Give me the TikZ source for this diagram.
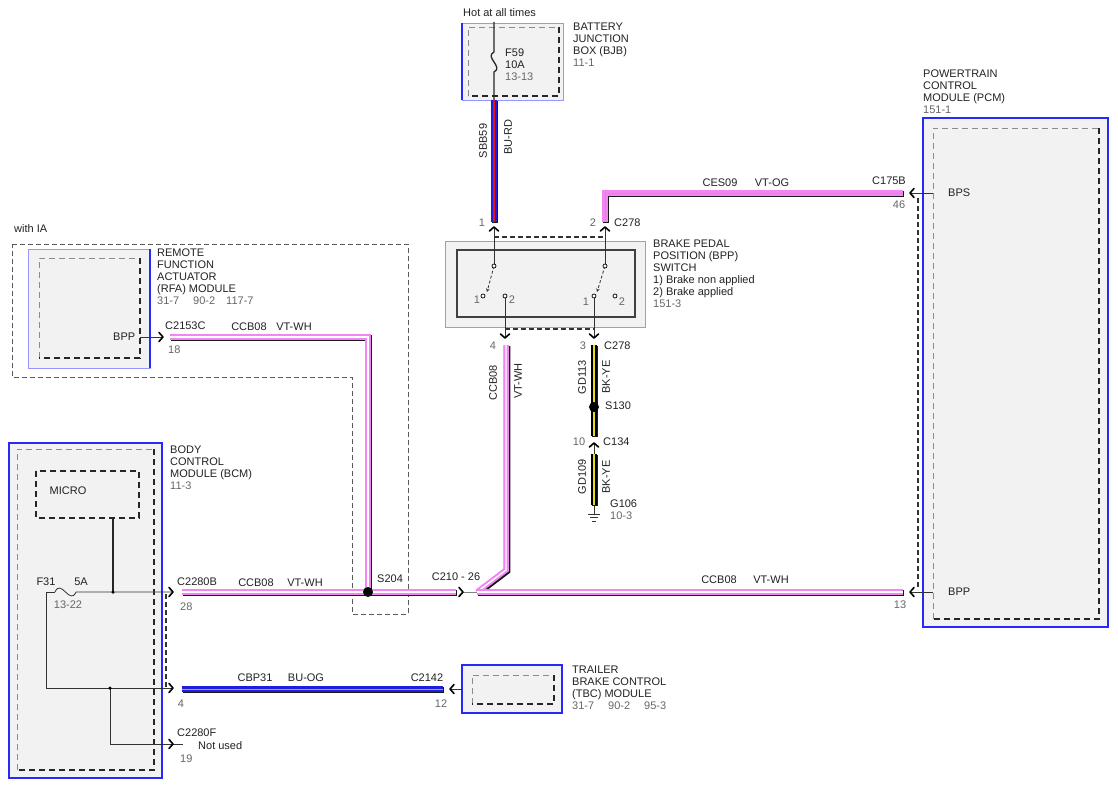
\documentclass[tikz,border=0pt]{standalone}
\usepackage{fontspec}
\setmainfont{Liberation Sans}
\usetikzlibrary{arrows.meta,calc}
\definecolor{txt}{HTML}{222222}
\definecolor{num}{HTML}{666666}
\definecolor{modfill}{HTML}{F2F2F2}
\definecolor{bluethick}{RGB}{40,40,250}
\definecolor{bluelight}{RGB}{150,150,255}
\definecolor{vt}{RGB}{240,135,240}
\definecolor{bu}{RGB}{30,30,220}
\definecolor{rd}{RGB}{230,20,20}
\definecolor{og}{RGB}{255,150,40}
\definecolor{ye}{RGB}{230,220,30}
\newcommand\wirepath[3]{%
  \draw[line width=6.5pt, black!90, transform canvas={shift={(1pt,-1pt)}}] #3;
  \draw[line width=5.5pt, #1] #3;
  \draw[line width=1.4pt, #2] #3;}
\newcommand\innerdash[4]{%
  \draw[dashlight] (#1,#4) -- (#1,#2) -- (#3,#2);
  \draw[dashdark] (#3,#2) -- (#3,#4) -- (#1,#4);}
\tikzset{
  lb/.style={anchor=north west, inner sep=0pt, align=left, font=\fontsize{11}{12}\selectfont, text=txt, execute at begin node=\rule{0pt}{8pt}},
  txtc/.style={inner sep=0pt, text height=7.8pt, text depth=0pt, font=\fontsize{11}{12}\selectfont, text=txt},
  txtn/.style={txtc, text=num},
  txtw/.style={txtc, anchor=west},
  numw/.style={txtw, text=num},
  txtrot/.style={txtc, rotate=90},
  pinline/.style={draw=black!80, line width=0.8pt},
  heavyline/.style={draw=black!85, line width=1.3pt},
  dashlight/.style={draw=black!45, line width=0.8pt, dash pattern=on 6pt off 4pt},
  dashdark/.style={draw=black!85, line width=1.4pt, dash pattern=on 6pt off 4pt},
  grpdash/.style={draw=black!80, line width=1.2pt, dash pattern=on 5pt off 3pt},
  iadash/.style={draw=black!65, line width=0.8pt, dash pattern=on 5pt off 3pt},
  chevstyle/.style={draw=black, line width=1.6pt, line join=round, line cap=round},
  chevR/.pic={\draw[chevstyle] (-4,-4.5) -- (0,0) -- (-4,4.5);},
  chevL/.pic={\draw[chevstyle] (4,-4.5) -- (0,0) -- (4,4.5);},
  chevU/.pic={\draw[chevstyle] (-4.5,4) -- (0,0) -- (4.5,4);},
  chevD/.pic={\draw[chevstyle] (-4.5,-4) -- (0,0) -- (4.5,-4);},
  splice/.style={circle, fill=black, inner sep=0pt, minimum size=10pt},
  jdot/.style={circle, fill=black, inner sep=0pt, minimum size=3.5pt},
  contact/.style={circle, draw=black, fill=white, line width=0.7pt, inner sep=0pt, minimum size=4pt},
}
\begin{document}
\begin{tikzpicture}[x=1pt,y=-1pt]
\useasboundingbox (0,0) rectangle (1118,789);
\fill[white] (0,0) rectangle (1118,789);

% ---------- module boxes ----------
% BJB
\draw[fill=modfill, draw=bluelight, line width=0.8pt] (462,23) rectangle (563,100);
\draw[bluethick, line width=2.2pt] (462,23) -- (462,100);
\innerdash{468}{27}{559}{96}
% RFA
\draw[fill=modfill, draw=bluelight, line width=0.8pt] (28,249) rectangle (150,368);
\draw[bluethick, line width=2.2pt] (150,249) -- (150,368);
\innerdash{39}{258}{140}{358}
% BCM
\draw[fill=modfill, draw=bluethick, line width=1.5pt] (9,443) rectangle (162,778);
\innerdash{17}{449}{154}{770}
\draw[dashdark, line width=1.2pt] (36,471) rectangle (139,518);
% PCM
\draw[fill=modfill, draw=bluethick, line width=1.8pt] (923,118) rectangle (1108,627);
\innerdash{933}{128}{1099}{619}
% TBC
\draw[fill=modfill, draw=bluethick, line width=1.8pt] (462,665) rectangle (562,713);
\innerdash{472}{675}{554}{704}
% BPP switch
\draw[fill=modfill, draw=bluelight, line width=0.9pt] (445,241) rectangle (645,327);
\draw[fill=modfill, draw=black!75, line width=1.1pt] (457,250) rectangle (635,317);

% ---------- dashed outlines ----------
\draw[iadash] (12,244) -- (408,244) -- (408,614) -- (352,614) -- (352,377) -- (12,377) -- cycle;
\draw[grpdash] (494,237) -- (605,237);
\draw[grpdash] (505,329) -- (594,329);
\draw[grpdash] (166,594) -- (166,688);
\draw[grpdash] (918,198) -- (918,590);

% ---------- coordinates ----------
\coordinate (bjbout) at (494,100);
\coordinate (p1top) at (494,222);
\coordinate (p2top) at (605,222);
\coordinate (cesc) at (605,193);
\coordinate (pcm46) at (903,193);
\coordinate (rfa18) at (170,337);
\coordinate (rfac) at (368,337);
\coordinate (s204) at (368,592);
\coordinate (bcm28) at (182,592);
\coordinate (c210a) at (456,592);
\coordinate (c210b) at (477,592);
\coordinate (p4) at (506,345);
\coordinate (p4c) at (506,570);
\coordinate (pcm13) at (903,592);
\coordinate (bcm4) at (182,689);
\coordinate (tbc12) at (443,689);
\coordinate (p3) at (594,345);
\coordinate (s130) at (594,407);
\coordinate (c134a) at (594,436);
\coordinate (c134b) at (594,454);
\coordinate (g106) at (594,505);

% ---------- thin internal / pin lines ----------
% BJB fuse line
\draw[heavyline] (494,22) -- (494,52) .. controls (484,57) and (504,67) .. (494,72) -- (bjbout);
% BPP switch
\draw[pinline] (494,266) -- (494,227);
\draw[pinline] (605,266) -- (605,227);
\draw[pinline] (505,296) -- (505,338);
\draw[pinline] (594,296) -- (594,338);
\draw[pinline, dash pattern=on 3pt off 2pt, -{Stealth[length=3.5pt,width=3.5pt]}] (494,266) -- (487,292);
\draw[pinline, dash pattern=on 3pt off 2pt, -{Stealth[length=3.5pt,width=3.5pt]}] (605,266) -- (597,292);
\node[contact] (sw1p) at (494,266) {};
\node[contact] (sw1a) at (483,296) {};
\node[contact] (sw1b) at (505,296) {};
\node[contact] (sw2p) at (605,266) {};
\node[contact] (sw2a) at (594,296) {};
\node[contact] (sw2b) at (615,296) {};
% RFA pin
\draw[pinline] (140,337) -- (163,337);
% PCM pins
\draw[pinline] (910,193) -- (933,193);
\draw[pinline] (910,592) -- (933,592);
% TBC pin
\draw[pinline] (450,689) -- (462,689);
% C210 link
\draw[pinline, draw=black!50] (463,592) -- (c210b);
% C134 link and ground
\draw[pinline] (594,443) -- (c134b);
\draw[pinline] (g106) -- (594,514);
\draw[pinline, line width=1pt] (588,514) -- (600,514);
\draw[pinline, line width=1pt] (590,517.5) -- (598,517.5);
\draw[pinline, line width=1pt] (592,521) -- (596,521);
% BCM internal circuit
\draw[heavyline] (113,518) -- (113,592);
\draw[pinline] (55,592) .. controls (61,578) and (70,606) .. (76,592) -- (173,592);
\draw[pinline] (55,592) -- (46,592) -- (46,688) -- (173,688);
\draw[pinline] (110,688) -- (110,744) -- (183,744);
\node[jdot] (bcmj1) at (113,592) {};
\node[jdot] (bcmj2) at (110,688) {};

% ---------- wires ----------
\wirepath{bu}{rd}{(bjbout) -- (p1top)}
\wirepath{vt}{og, line width=0.8pt}{(p2top) -- (cesc) -- (pcm46)}
\wirepath{vt}{white}{(rfa18) -- (rfac) -- (s204)}
\wirepath{vt}{white}{(bcm28) -- (c210a)}
\wirepath{vt}{white}{(p4) -- (p4c) -- (c210b)}
\wirepath{vt}{white}{(c210b) -- (pcm13)}
\wirepath{bu}{og, line width=0.6pt}{(bcm4) -- (tbc12)}
\wirepath{black}{ye}{(p3) -- (c134a)}
\wirepath{black}{ye}{(c134b) -- (g106)}

\node[splice] (s204dot) at (s204) {};
\node[splice] (s130dot) at (s130) {};

% ---------- connector chevrons ----------
\pic at (494,227) {chevU};
\pic at (605,227) {chevU};
\pic at (505,338) {chevD};
\pic at (594,338) {chevD};
\pic at (594,443) {chevU};
\pic at (163,337) {chevR};
\pic at (173,592) {chevR};
\pic at (173,688) {chevR};
\pic at (173,744) {chevR};
\pic at (463,592) {chevR};
\pic at (910,193) {chevL};
\pic at (910,592) {chevL};
\pic at (450,689) {chevL};

% ---------- texts ----------
\node[txtw] (hot) at (463,13) {Hot at all times};
\node[lb] (bjbl) at (573,23) {BATTERY\\JUNCTION\\BOX (BJB)\\\textcolor{num}{11-1}};
\node[lb] (f59) at (505,49) {F59\\10A\\\textcolor{num}{13-13}};
\node[txtrot] (sbb) at (483,141) {SBB59};
\node[txtrot] (burd) at (508,137) {BU-RD};
\node[txtn] (n1) at (482,223) {1};
\node[txtn] (n2) at (593,223) {2};
\node[txtw] (c278a) at (614,223) {C278};
\node[txtc] (ces) at (720,183) {CES09};
\node[txtc] (vtog) at (772,183) {VT-OG};
\node[txtc] (c175) at (889,181) {C175B};
\node[txtn] (n46) at (899,205) {46};
\node[lb] (bppl) at (653,240) {BRAKE PEDAL\\POSITION (BPP)\\SWITCH\\1) Brake non applied\\2) Brake applied\\\textcolor{num}{151-3}};
\node[txtn] (k1) at (477,300) {1};
\node[txtn] (k2) at (512,300) {2};
\node[txtn] (k3) at (586,302) {1};
\node[txtn] (k4) at (622,302) {2};
\node[txtn] (n4) at (493,346) {4};
\node[txtn] (n3) at (583,346) {3};
\node[txtw] (c278b) at (604,346) {C278};
\node[txtrot] (ccbv) at (493,383) {CCB08};
\node[txtrot] (vtwhv) at (518,381) {VT-WH};
\node[txtrot] (gd113) at (582,377) {GD113};
\node[txtrot] (bkye1) at (606,377) {BK-YE};
\node[txtw] (s130l) at (605,406) {S130};
\node[txtn] (n10) at (579,442) {10};
\node[txtw] (c134l) at (603,442) {C134};
\node[txtrot] (gd109) at (582,477) {GD109};
\node[txtrot] (bkye2) at (606,477) {BK-YE};
\node[lb] (g106l) at (610,500) {G106\\\textcolor{num}{10-3}};
\node[txtw] (withia) at (14,229) {with IA};
\node[lb] (rfal) at (157,249) {REMOTE\\FUNCTION\\ACTUATOR\\(RFA) MODULE\\\textcolor{num}{31-7\hspace{14pt}90-2\hspace{11pt}117-7}};
\node[txtw] (bppr) at (113,337) {BPP};
\node[txtw] (c2153) at (165,326) {C2153C};
\node[numw] (n18) at (168,350) {18};
\node[txtc] (ccb1) at (249,327) {CCB08};
\node[txtc] (vtwh1) at (294,327) {VT-WH};
\node[lb] (bcml) at (170,446) {BODY\\CONTROL\\MODULE (BCM)\\\textcolor{num}{11-3}};
\node[txtc] (micro) at (68,491) {MICRO};
\node[txtc] (f31) at (46,582) {F31};
\node[txtc] (a5) at (81,582) {5A};
\node[txtn] (f31n) at (68,605) {13-22};
\node[txtw] (c2280b) at (177,582) {C2280B};
\node[numw] (n28) at (180,607) {28};
\node[txtc] (ccb2) at (256,583) {CCB08};
\node[txtc] (vtwh2) at (305,583) {VT-WH};
\node[txtw] (s204l) at (377,579) {S204};
\node[txtc] (c210l) at (456,577) {C210 - 26};
\node[txtc] (ccb3) at (719,580) {CCB08};
\node[txtc] (vtwh3) at (771,580) {VT-WH};
\node[txtn] (n13) at (900,605) {13};
\node[txtw] (bppp) at (948,592) {BPP};
\node[txtw] (bps) at (948,193) {BPS};
\node[lb] (pcml) at (923,70) {POWERTRAIN\\CONTROL\\MODULE (PCM)\\\textcolor{num}{151-1}};
\node[txtn] (n4b) at (181,704) {4};
\node[txtc] (cbp) at (255,678) {CBP31};
\node[txtc] (buog) at (306,678) {BU-OG};
\node[txtc] (c2142) at (427,678) {C2142};
\node[txtn] (n12) at (441,704) {12};
\node[lb] (tbcl) at (572,666) {TRAILER\\BRAKE CONTROL\\(TBC) MODULE\\\textcolor{num}{31-7\hspace{14pt}90-2\hspace{14pt}95-3}};
\node[txtw] (c2280f) at (177,733) {C2280F};
\node[txtw] (notused) at (198,746) {Not used};
\node[numw] (n19) at (180,759) {19};
\end{tikzpicture}
\end{document}
